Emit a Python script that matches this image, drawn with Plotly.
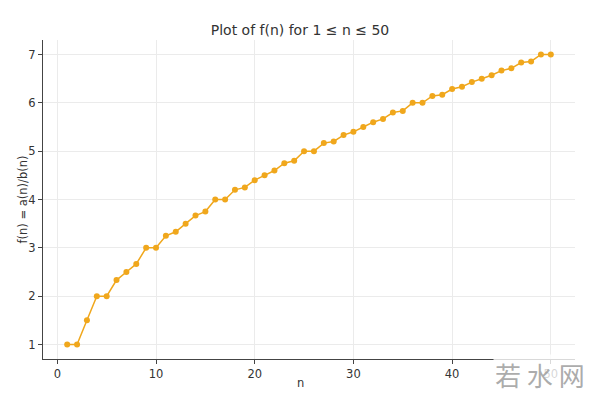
import plotly.graph_objects as go

n_values = list(range(1, 51))
f_values = [1, 1, 1.5, 2, 2, 2.333, 2.5, 2.667, 3, 3,
            3.25, 3.333, 3.5, 3.667, 3.75, 4, 4, 4.2, 4.25, 4.4,
            4.5, 4.6, 4.75, 4.8, 5, 5, 5.167, 5.2, 5.333, 5.4,
            5.5, 5.6, 5.667, 5.8, 5.833, 6, 6, 6.143, 6.167, 6.286,
            6.333, 6.429, 6.5, 6.571, 6.667, 6.714, 6.833, 6.857, 7, 7]
x_ticks = [0, 10, 20, 30, 40, 50]
y_ticks = [1, 2, 3, 4, 5, 6, 7]

font = "DejaVu Sans"
W, H = 600, 395
L, R, T, B = 43, 25, 40, 36
fig = go.Figure()
fig.add_trace(go.Scatter(
    x=n_values, y=f_values, mode="lines+markers",
    line=dict(color="#f0a71c", width=1.5),
    marker=dict(color="#f0a71c", size=6),
    showlegend=False,
))
fig.update_layout(
    width=W, height=H,
    margin=dict(l=L, r=R, t=T, b=B),
    paper_bgcolor="white", plot_bgcolor="white",
    font=dict(family=font, size=11.5, color="#333333"),
    title=dict(text="Plot of f(n) for 1 ≤ n ≤ 50", x=0.5, xanchor="center",
               y=1 - 30 / H, yanchor="middle",
               font=dict(family=font, size=14, color="#333333")),
    xaxis=dict(range=[-1.45, 52.45], tickvals=x_ticks, showgrid=True,
               gridcolor="#ebebeb", gridwidth=1, automargin=False,
               showline=True, linecolor="#444444", linewidth=1.2,
               ticks="outside", ticklen=4, tickcolor="#444444",
               zeroline=False),
    yaxis=dict(range=[0.7, 7.3], tickvals=y_ticks, showgrid=True,
               gridcolor="#ebebeb", gridwidth=1, automargin=False,
               showline=True, linecolor="#444444", linewidth=1.2,
               ticks="outside", ticklen=4, tickcolor="#444444",
               zeroline=False),
)
pw = W - L - R
ph = H - T - B
# axis titles
fig.add_annotation(xref="paper", yref="paper", x=(300 - L) / pw, y=-(383 - (H - B)) / ph,
                   text="n", showarrow=False, xanchor="center", yanchor="middle",
                   font=dict(family=font, size=11.5, color="#333333"))
fig.add_annotation(xref="paper", yref="paper", x=-(L - 22) / pw, y=0.5,
                   text="f(n) = a(n)/b(n)", showarrow=False, textangle=-90,
                   xanchor="center", yanchor="middle",
                   font=dict(family=font, size=11.5, color="#333333"))
# watermark (semi-transparent, as in the reference)
fig.add_annotation(
    xref="paper", yref="paper", x=(540 - L) / pw, y=-(374 - (H - B)) / ph,
    xanchor="center", yanchor="middle",
    text="若 水 网", showarrow=False, bgcolor="rgba(255,255,255,0.8)",
    font=dict(family="Noto Sans CJK SC", size=26, color="rgba(150,150,150,0.8)"),
)
fig.write_html("out.html")
